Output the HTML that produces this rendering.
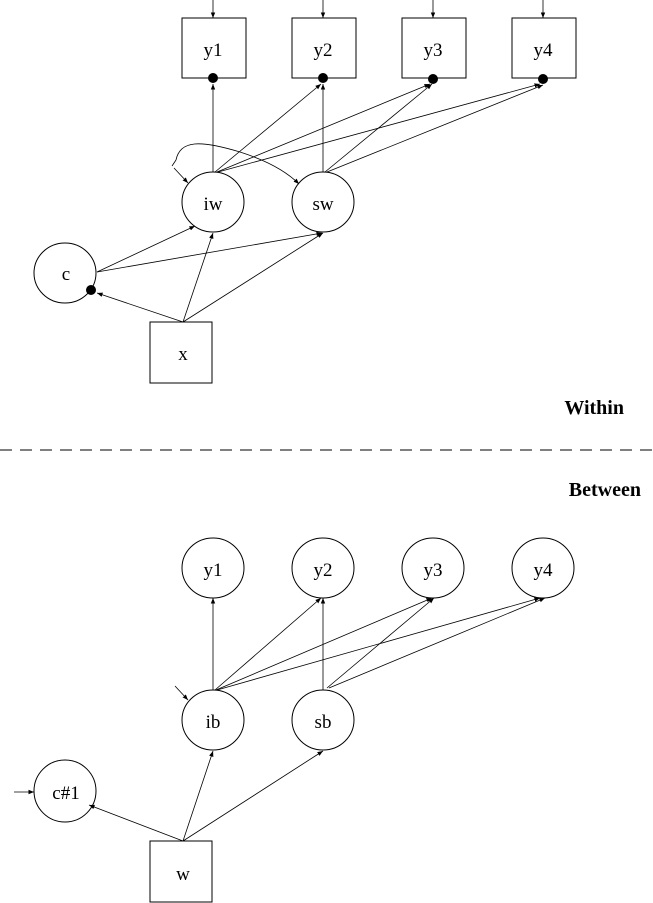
<html><head><style>body{margin:0;background:#fff}svg{display:block}text{font-family:"Liberation Serif",serif;font-size:19px;text-anchor:middle}</style></head><body>
<svg width="653" height="903" viewBox="0 0 653 903">
<defs><marker id="a" viewBox="0 0 10 10" refX="10" refY="5" markerWidth="7" markerHeight="7" orient="auto"><path d="M0,1L10,5L0,9z" fill="#000"/></marker></defs>
<g stroke="#000" stroke-width="1" fill="none">
<rect x="182" y="18" width="64" height="60"/><rect x="292" y="18" width="64" height="60"/><rect x="402" y="18" width="64" height="60"/><rect x="512" y="18" width="64" height="60"/>
<ellipse cx="213" cy="202" rx="31" ry="30"/><ellipse cx="323" cy="202" rx="31" ry="30"/><ellipse cx="65" cy="273" rx="31" ry="30"/>
<rect x="150" y="322" width="62" height="61"/>
<ellipse cx="213" cy="568" rx="31" ry="30"/><ellipse cx="323" cy="568" rx="31" ry="30"/><ellipse cx="433" cy="568" rx="31" ry="30"/><ellipse cx="543" cy="568" rx="31" ry="30"/>
<ellipse cx="213" cy="720" rx="31" ry="30"/><ellipse cx="323" cy="720" rx="31" ry="30"/><ellipse cx="65" cy="791" rx="31" ry="31"/>
<rect x="150" y="841" width="62" height="61"/>
<g marker-end="url(#a)" stroke-width="0.8">
<line x1="213" y1="0" x2="213" y2="18"/><line x1="323" y1="0" x2="323" y2="18"/><line x1="433" y1="0" x2="433" y2="18"/><line x1="543" y1="0" x2="543" y2="18"/>
<line x1="213" y1="172" x2="213" y2="84"/><line x1="215" y1="172" x2="321" y2="84"/><line x1="217" y1="172" x2="430" y2="84"/><line x1="218" y1="172" x2="540" y2="84"/>
<line x1="323" y1="172" x2="323" y2="84"/><line x1="325" y1="172" x2="432" y2="84"/><line x1="327" y1="172" x2="543" y2="85"/>
<path d="M176,160 C180,140 200,140 240,152 C265,160 285,170 299,184"/>
<line x1="174" y1="168" x2="188" y2="183"/>
<line x1="97" y1="272" x2="195" y2="226"/><line x1="97" y1="272" x2="322" y2="233"/>
<line x1="183" y1="322" x2="213" y2="233"/><line x1="183" y1="322" x2="323" y2="233"/><line x1="183" y1="322" x2="97" y2="293"/>
<line x1="213" y1="690" x2="213" y2="598"/><line x1="215" y1="690" x2="321" y2="598"/><line x1="216" y1="690" x2="432" y2="598"/><line x1="217" y1="690" x2="540" y2="598"/>
<line x1="323" y1="690" x2="323" y2="598"/><line x1="327" y1="688" x2="434" y2="598"/><line x1="329" y1="688" x2="545" y2="598"/>
<line x1="175" y1="686" x2="188" y2="700"/>
<line x1="183" y1="841" x2="89" y2="805"/><line x1="183" y1="841" x2="213" y2="751"/><line x1="183" y1="841" x2="323" y2="751"/>
<line x1="14" y1="792" x2="34" y2="792"/>
</g>
<line x1="176" y1="160" x2="172" y2="166" stroke-width="0.8"/>
<line x1="0" y1="450" x2="653" y2="450" stroke-dasharray="12,8"/>
</g>
<g fill="#000"><circle cx="213" cy="78" r="5"/><circle cx="323" cy="78" r="5"/><circle cx="433" cy="79" r="5"/><circle cx="543" cy="79" r="5"/><circle cx="91" cy="290" r="5"/></g>
<text x="213" y="56">y1</text><text x="323" y="56">y2</text><text x="433" y="56">y3</text><text x="543" y="56">y4</text>
<text x="213" y="210">iw</text><text x="323" y="210">sw</text><text x="66" y="280">c</text><text x="183" y="360">x</text>
<text x="213" y="576">y1</text><text x="323" y="576">y2</text><text x="433" y="576">y3</text><text x="543" y="576">y4</text>
<text x="213" y="728">ib</text><text x="323" y="728">sb</text><text x="66" y="799">c#1</text><text x="183" y="880">w</text>
<text x="624" y="414" style="text-anchor:end;font-weight:bold;font-size:20px">Within</text>
<text x="641" y="496" style="text-anchor:end;font-weight:bold;font-size:20px">Between</text>
</svg></body></html>
